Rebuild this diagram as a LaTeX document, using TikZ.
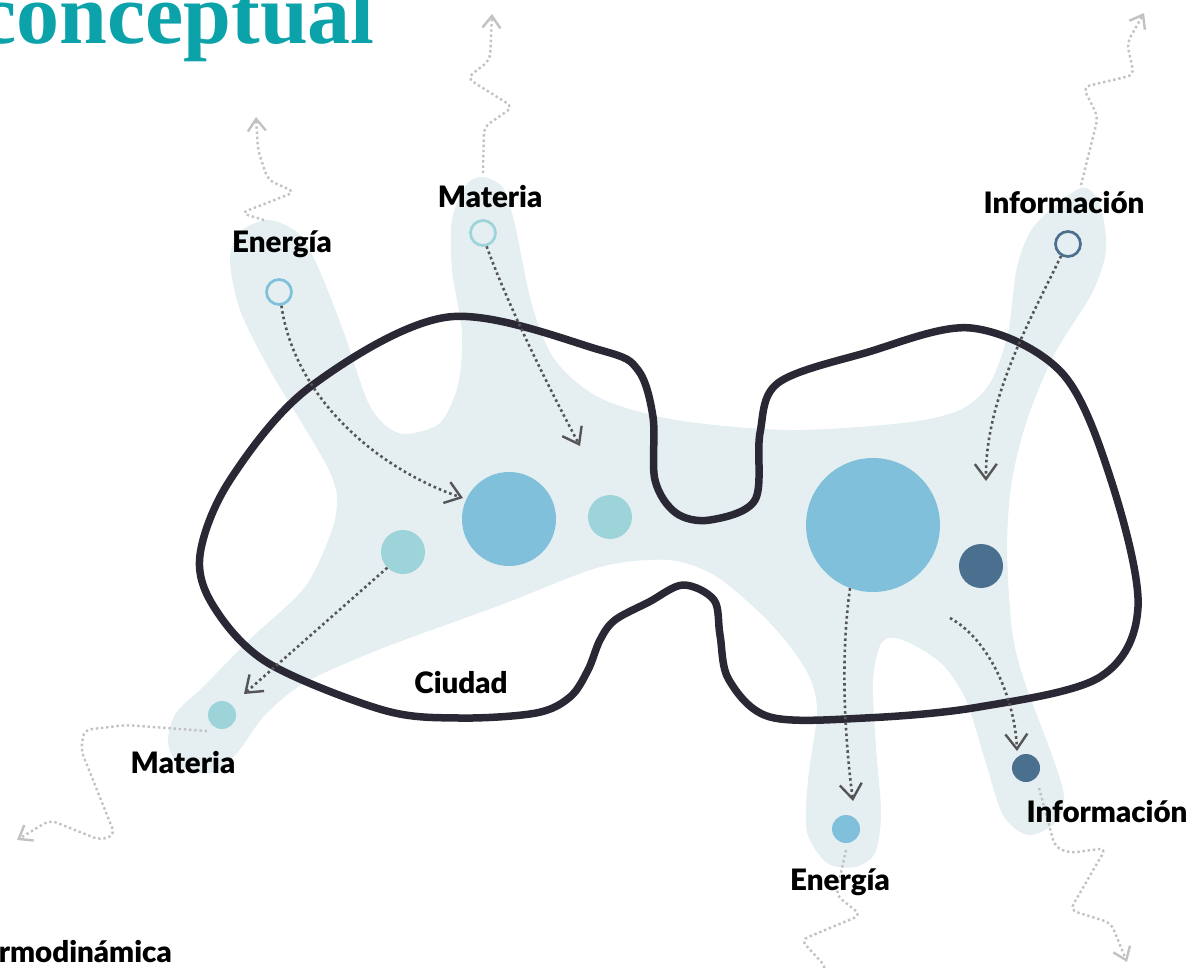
\documentclass[tikz,border=0pt]{standalone}
\usepackage{fontspec}
\setmainfont{Lato}
\IfFontExistsTF{Lato Black}{\newfontfamily\lblfont{Lato Black}}{\newfontfamily\lblfont{Lato Bold}[FakeBold=1.2]}
\newfontfamily\titlefont{Liberation Serif}
\usetikzlibrary{arrows.meta}
\definecolor{blobc}{HTML}{E5EEF0}
\definecolor{cityc}{HTML}{2B2835}
\definecolor{bigblue}{HTML}{80C0DA}
\definecolor{tealc}{HTML}{9DD4D9}
\definecolor{darkblue}{HTML}{4A6F8F}
\definecolor{dgray}{HTML}{555555}
\definecolor{lgray}{HTML}{C2C2C2}
\definecolor{titlec}{HTML}{0BA3A9}
\begin{document}
\begin{tikzpicture}[x=1pt,y=-1pt,
  lbl/.style={font=\lblfont\fontsize{29.5}{31}\selectfont, inner sep=0pt, anchor=base},
  dot/.style={circle, inner sep=0pt, minimum size=#1},
  ring/.style={circle, inner sep=0pt, minimum size=25pt, line width=2.7pt},
  darr/.style={draw=dgray, line width=2.6pt, dash pattern=on 2.6pt off 3pt,
     -{Straight Barb[length=15pt,width=22pt,line width=2.4pt]}},
  garr/.style={draw=lgray, line width=2.4pt, dash pattern=on 2.4pt off 2.8pt, rounded corners=7pt,
     -{Straight Barb[length=12pt,width=18pt,line width=2.4pt]}},
  gline/.style={draw=lgray, line width=2.4pt, dash pattern=on 2.4pt off 2.8pt, rounded corners=7pt}]
\useasboundingbox (0,0) rectangle (1194,967);

% title
\node[font=\titlefont\bfseries\fontsize{86}{90}\selectfont, text=titlec, inner sep=0pt, anchor=base east] (title) at (375,43) {conceptual};

% blob
\fill[blobc] plot[smooth cycle, tension=0.5] coordinates {
(268,220) (298,233) (318,267) (344,333) (367,400) (385,425) (406,434) (440,423) (458,385) (462,333) (452,270) (452,220) (466,185) (483,177) (503,188) (515,225) (532,305) (555,360) (600,398) (676,420) (789,430) (903,423) (960,410) (990,383) (1008,333) (1017,267) (1035,225) (1081,188) (1100,205) (1106,250) (1092,293) (1055,353) (1028,417) (1012,480) (1007,547) (1012,630) (1024,680) (1052,755) (1064,797) (1055,823) (1028,835) (1003,815) (985,760) (966,700) (941,663) (903,640) (882,642) (873,680) (876,747) (881,813) (875,853) (855,867) (827,863) (807,832) (808,780) (817,713) (810,678) (789,645) (759,612) (714,575) (668,560) (600,567) (498,606) (383,648) (306,682) (265,715) (237,753) (212,773) (180,767) (168,742) (176,713) (203,687) (249,640) (305,587) (332,530) (337,497) (329,470) (306,430) (268,367) (240,310) (230,260) (240,232)};

% city outline
\draw[cityc, line width=7.5pt] plot[smooth cycle, tension=0.55] coordinates {
(200,555) (230,480) (310,387) (448,317) (600,350) (638,370) (653,417) (655,480) (676,513) (710,520) (755,500) (760,433) (778,383) (865,353) (971,328) (1062,373) (1111,480) (1138,607) (1100,677) (979,707) (865,718) (770,717) (729,680) (720,635) (714,600) (683,585) (649,602) (615,620) (600,640) (588,670) (570,697) (536,713) (459,718) (383,710) (268,663) (214,607)};

% circles
\node[ring, draw=bigblue] (eTop) at (279,292) {};
\node[ring, draw=tealc] (mTop) at (483,233) {};
\node[ring, draw=darkblue] (iTop) at (1068,244) {};
\node[dot=94pt, fill=bigblue] (bigL) at (509,519) {};
\node[dot=44pt, fill=tealc] (tealM) at (610,517) {};
\node[dot=44pt, fill=tealc] (tealL) at (403,552) {};
\node[dot=134pt, fill=bigblue] (bigR) at (873,525) {};
\node[dot=44pt, fill=darkblue] (darkR) at (981,566) {};
\node[dot=28pt, fill=tealc] (mBot) at (222,715) {};
\node[dot=28pt, fill=bigblue] (eBot) at (846,829) {};
\node[dot=28pt, fill=darkblue] (iBot) at (1026,768) {};

% end coordinates
\coordinate (a1) at (463,498);
\coordinate (a2) at (580,446);
\coordinate (a3) at (986,481);
\coordinate (a4) at (244,694);
\coordinate (a5) at (853,801);
\coordinate (s6) at (950,618);
\coordinate (a6) at (1017,751);

% dark dotted arrows
\draw[darr] (eTop.-80) .. controls (295,400) and (380,470) .. (a1);
\draw[darr] (mTop.-75) .. controls (510,310) and (550,390) .. (a2);
\draw[darr] (iTop.-120) .. controls (1030,320) and (985,400) .. (a3);
\draw[darr] (tealL.225) -- (a4);
\draw[darr] (bigR.-110) .. controls (840,660) and (845,740) .. (a5);
\draw[darr] (s6) .. controls (990,640) and (1015,700) .. (a6);

% light wavy arrows
\coordinate (g1) at (264,220);
\coordinate (g2) at (483,173);
\coordinate (g3) at (1081,185);
\coordinate (g4) at (207,731);
\coordinate (g5) at (846,850);
\coordinate (g6) at (1039,788);
\draw[garr] (g1) -- (241,213) -- (295,192) -- (268,180) -- (258,150) -- (256,117);
\draw[garr] (g2) -- (484,127) -- (513,107) -- (467,78) -- (490,60) -- (492,14);
\draw[garr] (g3) -- (1098,117) -- (1083,87) -- (1134,75) -- (1127,43) -- (1144,13);
\draw[garr] (g4) -- (126,725) -- (84,730) -- (81,750) -- (115,835) -- (100,840) -- (50,820) -- (17,840);
\draw[gline] (g5) -- (836,895) -- (861,915) -- (801,940) -- (826,967) -- (823,990);
\draw[garr] (g6) -- (1055,847) -- (1070,853) -- (1106,848) -- (1070,910) -- (1111,923) -- (1127,962);

% labels
\node[lbl] (lE1) at (282,252) {Energía};
\node[lbl] (lM1) at (490,207) {Materia};
\node[lbl] (lI1) at (1064,213) {Información};
\node[lbl] (lC) at (461,693) {Ciudad};
\node[lbl] (lM2) at (183,773) {Materia};
\node[lbl] (lE2) at (840,890) {Energía};
\node[lbl] (lI2) at (1107,822) {Información};
\node[lbl, anchor=base east] (lT) at (172,962) {rmodinámica};
\end{tikzpicture}
\end{document}
